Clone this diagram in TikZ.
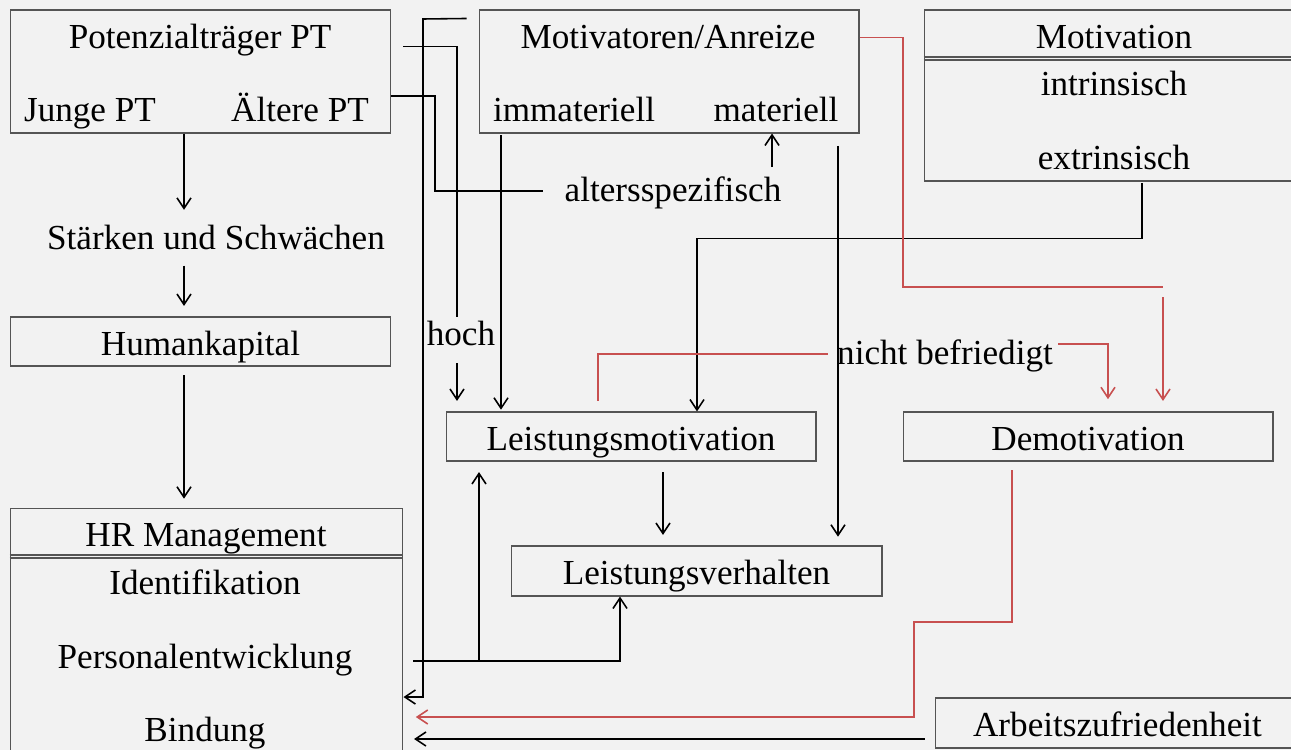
\documentclass[tikz,border=0pt]{standalone}
\usepackage{fontspec}
\setmainfont{Liberation Serif}
\usetikzlibrary{arrows.meta,positioning,calc}
\definecolor{pagegray}{RGB}{242,242,242}
\definecolor{boxline}{RGB}{85,85,85}
\definecolor{demored}{RGB}{200,80,80}

\begin{document}
\begin{tikzpicture}[
    x=0.02cm, y=-0.02cm,
    every node/.style={font=\fontsize{20}{24}\selectfont, inner sep=1pt, text height=18.4pt, text depth=3pt},
    box/.style={draw=boxline, line width=0.6pt, inner sep=0pt},
    link/.style={line width=0.9pt, -{Straight Barb[length=6pt,width=8pt]}},
    plain/.style={line width=0.9pt},
    redplain/.style={demored, line width=0.9pt},
    redlink/.style={demored, line width=0.9pt, -{Straight Barb[length=6pt,width=8pt]}}
  ]
    \fill[pagegray] (0,0) rectangle (1291,750);
    \clip (0,0) rectangle (1291,750);

    \node[box, minimum width=7.62cm, minimum height=2.46cm] (pt) at (200.5,71.5) {};
    \node (ptTitle) at (200,35) {Potenzialträger PT};
    \node (junge) at (90,108) {Junge PT};
    \node (aeltere) at (300,108) {Ältere PT};

    \node[box, minimum width=7.6cm, minimum height=2.46cm] (mot) at (669,71.5) {};
    \node (motTitle) at (668,35) {Motivatoren/Anreize};
    \node (immat) at (574,108) {immateriell};
    \node (mat) at (776,108) {materiell};

    \node[box, minimum width=7.52cm, minimum height=3.42cm] (motiv) at (1112,95.5) {};
    \draw[boxline, line width=0.6pt] (motiv.west |- 0,57) -- (motiv.east |- 0,57)
      (motiv.west |- 0,60) -- (motiv.east |- 0,60);
    \node (motivTitle) at (1114,35) {Motivation};
    \node (intr) at (1114,82) {intrinsisch};
    \node (extr) at (1114,156) {extrinsisch};

    \node (sw) at (216,236) {Stärken und Schwächen};
    \node[box, minimum width=7.62cm, minimum height=0.98cm] (hk) at (200.5,341.5) {Humankapital};

    \node[box, minimum width=7.86cm, minimum height=5.04cm] (hr) at (206.5,634) {};
    \draw[boxline, line width=0.6pt] (hr.west |- 0,555) -- (hr.east |- 0,555)
      (hr.west |- 0,558) -- (hr.east |- 0,558);
    \node (hrTitle) at (206,533) {HR Management};
    \node (ident) at (205,581) {Identifikation};
    \node (pe) at (205,655) {Personalentwicklung};
    \node (bind) at (205,728) {Bindung};

    \node[box, minimum width=7.4cm, minimum height=0.98cm] (lm) at (631,436.5) {Leistungsmotivation};
    \node[box, minimum width=7.4cm, minimum height=0.98cm] (demo) at (1088,436.5) {Demotivation};
    \node[box, minimum width=7.42cm, minimum height=1cm] (lv) at (696.5,571) {Leistungsverhalten};
    \node[box, minimum width=7.3cm, minimum height=1cm] (az) at (1117.5,723) {Arbeitszufriedenheit};

    \node (alter) at (673,188) {altersspezifisch};
    \node (hoch) at (461,332) {hoch};
    \node (nb) at (945,351) {nicht befriedigt};

    \draw[link, shorten >=3pt] (pt.south -| 184,0) -- (sw.north -| 184,0);
    \draw[link, shorten <=5pt, shorten >=6pt] (sw.south -| 184,0) -- (hk.north -| 184,0);
    \draw[link, shorten <=5pt, shorten >=5pt] (hk.south -| 184,0) -- (hr.north -| 184,0);

    \draw[link] ($(mot.north west)+(-12,9)$) -- (423,19) |- (hr.east |- 0,697);
    \draw[plain] ($(pt.north east)+(12,37)$) -| (457,317);
    \draw[link, shorten <=6pt, shorten >=6pt] (hoch.south -| 457,0) -- (lm.north -| 457,0);
    \draw[plain, shorten >=11pt] ($(pt.east)+(0,24.5)$) -| (435,191) -- (alter.west |- 0,191);
    \draw[link] (alter.north -| 772,0) -- (mot.south -| 772,0);
    \draw[link, shorten <=1pt, shorten >=1pt] (mot.south -| 501,0) -- (lm.north -| 501,0);
    \draw[link, shorten <=1pt] (motiv.south -| 1142,0) -- ++(0,57) -| (lm.north -| 697,0);
    \draw[link, shorten <=7pt, shorten >=5pt] (mot.south -| 838,0) -- (lv.north -| 838,0);
    \draw[link, shorten <=6pt, shorten >=6pt] (lm.south -| 663,0) -- (lv.north -| 663,0);
    \coordinate (peOut) at ($(hr.east |- pe)+(10,6)$);
    \draw[link] (peOut) -| (lv.south -| 620,0);
    \draw[link, shorten >=6pt] (peOut -| 479,0) -- (lm.south -| 479,0);
    \draw[link, shorten >=6pt] ($(az.west)+(-10,16)$) -- (hr.east |- 0,739);

    \draw[redplain] ($(mot.north east)+(0,28)$) -| (903,287) -- (1163,287);
    \draw[redlink, shorten >=6pt] (1163,297) -- (demo.north -| 1163,0);
    \draw[redplain, shorten <=6pt, shorten >=4pt] (lm.north -| 598,0) |- (nb.west |- 0,354);
    \draw[redlink, shorten <=2pt, shorten >=7pt] (nb.east |- 0,344) -| (demo.north -| 1108,0);
    \draw[redlink, shorten <=5pt, shorten >=7pt] (demo.south -| 1012,0) |- (914,622) |- (hr.east |- 0,717);
  \end{tikzpicture}
\end{document}
